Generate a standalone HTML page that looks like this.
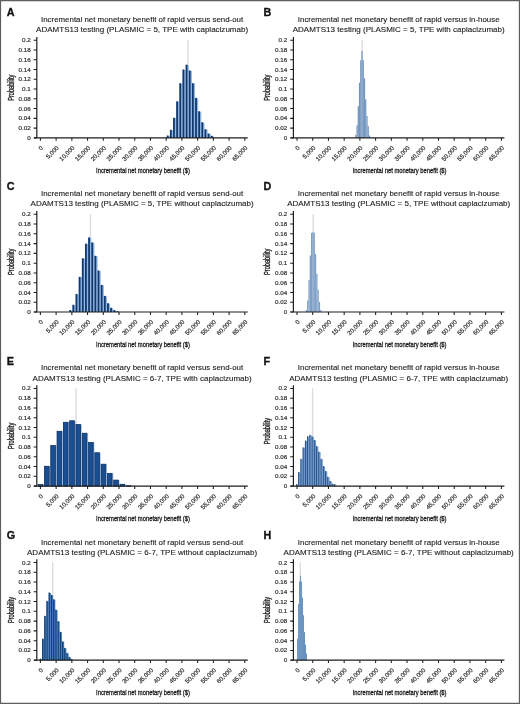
<!DOCTYPE html>
<html><head><meta charset="utf-8"><title>Incremental net monetary benefit histograms</title>
<style>
html,body{margin:0;padding:0;background:#fff;}
body{width:520px;height:704px;overflow:hidden;}
svg{display:block;will-change:transform;}
text{font-family:"Liberation Sans",sans-serif;fill:#1a1a1a;}
.t{font-size:7.9px;fill:#222;stroke:#222;stroke-width:0.12px;}
.lt{font-size:10.8px;font-weight:bold;fill:#111;stroke:#111;stroke-width:0.3px;}
.yl{font-size:5.8px;fill:#333;stroke:#333;stroke-width:0.2px;}
.xl{font-size:6.1px;fill:#333;stroke:#333;stroke-width:0.2px;}
.at{font-size:8.0px;fill:#1a1a1a;stroke:#1a1a1a;stroke-width:0.32px;}
.pr{font-size:8.2px;fill:#222;stroke:#222;stroke-width:0.35px;}
</style></head><body>
<svg width="520" height="704" viewBox="0 0 520 704">
<rect x="0" y="0" width="520" height="704" fill="#fff"/>

<g transform="translate(0.00,0.00)">
<text class="lt" x="6.8" y="16.4">A</text>
<text class="t" x="142.1" y="22.3" text-anchor="middle">Incremental net monetary benefit of rapid versus send-out</text>
<text class="t" x="142.1" y="32.4" text-anchor="middle" textLength="212.0" lengthAdjust="spacingAndGlyphs">ADAMTS13 testing (PLASMIC = 5, TPE with caplacizumab)</text>
<line x1="187.90" y1="40.2" x2="187.90" y2="137.90" stroke="#dcdcdc" stroke-width="1.4"/>
<rect x="166.78" y="135.91" width="3.14" height="1.99" fill="#8fb8e6"/>
<rect x="166.78" y="135.51" width="1.79" height="2.39" fill="#12386c"/>
<rect x="169.93" y="130.19" width="3.14" height="7.71" fill="#8fb8e6"/>
<rect x="169.93" y="129.79" width="1.79" height="8.11" fill="#12386c"/>
<rect x="173.07" y="118.12" width="3.14" height="19.78" fill="#8fb8e6"/>
<rect x="173.07" y="117.72" width="1.79" height="20.18" fill="#12386c"/>
<rect x="176.22" y="101.71" width="3.14" height="36.19" fill="#8fb8e6"/>
<rect x="176.22" y="101.31" width="1.79" height="36.59" fill="#12386c"/>
<rect x="179.36" y="83.59" width="3.14" height="54.31" fill="#8fb8e6"/>
<rect x="179.36" y="83.19" width="1.79" height="54.71" fill="#12386c"/>
<rect x="182.51" y="69.91" width="3.14" height="67.99" fill="#8fb8e6"/>
<rect x="182.51" y="69.51" width="1.79" height="68.39" fill="#12386c"/>
<rect x="185.65" y="65.03" width="3.14" height="72.87" fill="#8fb8e6"/>
<rect x="185.65" y="64.63" width="1.79" height="73.27" fill="#12386c"/>
<rect x="188.80" y="70.89" width="3.14" height="67.01" fill="#8fb8e6"/>
<rect x="188.80" y="70.49" width="1.79" height="67.41" fill="#12386c"/>
<rect x="191.94" y="83.59" width="3.14" height="54.31" fill="#8fb8e6"/>
<rect x="191.94" y="83.19" width="1.79" height="54.71" fill="#12386c"/>
<rect x="195.09" y="98.24" width="3.14" height="39.66" fill="#8fb8e6"/>
<rect x="195.09" y="97.84" width="1.79" height="40.06" fill="#12386c"/>
<rect x="198.23" y="111.68" width="3.14" height="26.22" fill="#8fb8e6"/>
<rect x="198.23" y="111.28" width="1.79" height="26.62" fill="#12386c"/>
<rect x="201.37" y="122.67" width="3.14" height="15.23" fill="#8fb8e6"/>
<rect x="201.37" y="122.27" width="1.79" height="15.63" fill="#12386c"/>
<rect x="204.52" y="129.60" width="3.14" height="8.30" fill="#8fb8e6"/>
<rect x="204.52" y="129.20" width="1.79" height="8.70" fill="#12386c"/>
<rect x="207.66" y="133.90" width="3.14" height="4.00" fill="#8fb8e6"/>
<rect x="207.66" y="133.50" width="1.79" height="4.40" fill="#12386c"/>
<rect x="210.81" y="136.20" width="3.14" height="1.70" fill="#8fb8e6"/>
<rect x="210.81" y="135.80" width="1.79" height="2.10" fill="#12386c"/>
<path d="M36.80 37V137.90M34 137.90H247.8" stroke="#1e1e1e" stroke-width="1.2" fill="none"/>
<path d="M33.6 137.90H36.80M33.6 128.13H36.80M33.6 118.36H36.80M33.6 108.59H36.80M33.6 98.82H36.80M33.6 89.05H36.80M33.6 79.28H36.80M33.6 69.51H36.80M33.6 59.74H36.80M33.6 49.97H36.80M33.6 40.20H36.80M40.40 137.90V140.80M56.12 137.90V140.80M71.85 137.90V140.80M87.57 137.90V140.80M103.29 137.90V140.80M119.01 137.90V140.80M134.74 137.90V140.80M150.46 137.90V140.80M166.18 137.90V140.80M181.91 137.90V140.80M197.63 137.90V140.80M213.35 137.90V140.80M229.08 137.90V140.80M244.80 137.90V140.80" stroke="#1e1e1e" stroke-width="1.05" fill="none"/>
<text class="yl" x="30.7" y="139.95" text-anchor="end" textLength="3.48" lengthAdjust="spacingAndGlyphs">0</text>
<text class="yl" x="30.7" y="130.18" text-anchor="end" textLength="12.19" lengthAdjust="spacingAndGlyphs">0.02</text>
<text class="yl" x="30.7" y="120.41" text-anchor="end" textLength="12.19" lengthAdjust="spacingAndGlyphs">0.04</text>
<text class="yl" x="30.7" y="110.64" text-anchor="end" textLength="12.19" lengthAdjust="spacingAndGlyphs">0.06</text>
<text class="yl" x="30.7" y="100.87" text-anchor="end" textLength="12.19" lengthAdjust="spacingAndGlyphs">0.08</text>
<text class="yl" x="30.7" y="91.10" text-anchor="end" textLength="8.71" lengthAdjust="spacingAndGlyphs">0.1</text>
<text class="yl" x="30.7" y="81.33" text-anchor="end" textLength="12.19" lengthAdjust="spacingAndGlyphs">0.12</text>
<text class="yl" x="30.7" y="71.56" text-anchor="end" textLength="12.19" lengthAdjust="spacingAndGlyphs">0.14</text>
<text class="yl" x="30.7" y="61.79" text-anchor="end" textLength="12.19" lengthAdjust="spacingAndGlyphs">0.16</text>
<text class="yl" x="30.7" y="52.02" text-anchor="end" textLength="12.19" lengthAdjust="spacingAndGlyphs">0.18</text>
<text class="yl" x="30.7" y="42.25" text-anchor="end" textLength="8.71" lengthAdjust="spacingAndGlyphs">0.2</text>
<text class="xl" text-anchor="end" transform="translate(43.50,148.30) rotate(-45)">0</text>
<text class="xl" text-anchor="end" transform="translate(59.22,148.30) rotate(-45)">5,000</text>
<text class="xl" text-anchor="end" transform="translate(74.95,148.30) rotate(-45)">10,000</text>
<text class="xl" text-anchor="end" transform="translate(90.67,148.30) rotate(-45)">15,000</text>
<text class="xl" text-anchor="end" transform="translate(106.39,148.30) rotate(-45)">20,000</text>
<text class="xl" text-anchor="end" transform="translate(122.11,148.30) rotate(-45)">25,000</text>
<text class="xl" text-anchor="end" transform="translate(137.84,148.30) rotate(-45)">30,000</text>
<text class="xl" text-anchor="end" transform="translate(153.56,148.30) rotate(-45)">35,000</text>
<text class="xl" text-anchor="end" transform="translate(169.28,148.30) rotate(-45)">40,000</text>
<text class="xl" text-anchor="end" transform="translate(185.01,148.30) rotate(-45)">45,000</text>
<text class="xl" text-anchor="end" transform="translate(200.73,148.30) rotate(-45)">50,000</text>
<text class="xl" text-anchor="end" transform="translate(216.45,148.30) rotate(-45)">55,000</text>
<text class="xl" text-anchor="end" transform="translate(232.18,148.30) rotate(-45)">60,000</text>
<text class="xl" text-anchor="end" transform="translate(247.90,148.30) rotate(-45)">65,000</text>
<text class="pr" text-anchor="middle" transform="translate(13.8,87.7) rotate(-90)" textLength="26.2" lengthAdjust="spacingAndGlyphs">Probability</text>
<text class="at" x="143" y="173.2" text-anchor="middle" textLength="93.8" lengthAdjust="spacingAndGlyphs">Incremental net monetary benefit ($)</text>
</g>
<g transform="translate(256.60,0.00)">
<text class="lt" x="6.8" y="16.4">B</text>
<text class="t" x="142.1" y="22.3" text-anchor="middle">Incremental net monetary benefit of rapid versus in-house</text>
<text class="t" x="142.1" y="32.4" text-anchor="middle" textLength="212.0" lengthAdjust="spacingAndGlyphs">ADAMTS13 testing (PLASMIC = 5, TPE with caplacizumab)</text>
<line x1="105.60" y1="40.2" x2="105.60" y2="137.90" stroke="#dcdcdc" stroke-width="1.4"/>
<rect x="98.60" y="134.72" width="1.24" height="3.18" fill="#7295bf"/>
<rect x="99.84" y="125.20" width="1.24" height="12.70" fill="#7295bf"/>
<rect x="101.08" y="106.15" width="1.24" height="31.75" fill="#7295bf"/>
<rect x="102.32" y="82.70" width="1.24" height="55.20" fill="#7295bf"/>
<rect x="103.56" y="60.23" width="1.24" height="77.67" fill="#7295bf"/>
<rect x="104.80" y="50.95" width="1.24" height="86.95" fill="#7295bf"/>
<rect x="106.04" y="60.23" width="1.24" height="77.67" fill="#7295bf"/>
<rect x="107.28" y="78.30" width="1.24" height="59.60" fill="#7295bf"/>
<rect x="108.52" y="99.31" width="1.24" height="38.59" fill="#7295bf"/>
<rect x="109.76" y="115.92" width="1.24" height="21.98" fill="#7295bf"/>
<rect x="111.00" y="126.18" width="1.24" height="11.72" fill="#7295bf"/>
<rect x="112.24" y="135.46" width="1.24" height="2.44" fill="#7295bf"/>
<path d="M36.80 37V137.90M34 137.90H247.8" stroke="#1e1e1e" stroke-width="1.2" fill="none"/>
<path d="M33.6 137.90H36.80M33.6 128.13H36.80M33.6 118.36H36.80M33.6 108.59H36.80M33.6 98.82H36.80M33.6 89.05H36.80M33.6 79.28H36.80M33.6 69.51H36.80M33.6 59.74H36.80M33.6 49.97H36.80M33.6 40.20H36.80M40.40 137.90V140.80M56.12 137.90V140.80M71.85 137.90V140.80M87.57 137.90V140.80M103.29 137.90V140.80M119.01 137.90V140.80M134.74 137.90V140.80M150.46 137.90V140.80M166.18 137.90V140.80M181.91 137.90V140.80M197.63 137.90V140.80M213.35 137.90V140.80M229.08 137.90V140.80M244.80 137.90V140.80" stroke="#1e1e1e" stroke-width="1.05" fill="none"/>
<text class="yl" x="30.7" y="139.95" text-anchor="end" textLength="3.48" lengthAdjust="spacingAndGlyphs">0</text>
<text class="yl" x="30.7" y="130.18" text-anchor="end" textLength="12.19" lengthAdjust="spacingAndGlyphs">0.02</text>
<text class="yl" x="30.7" y="120.41" text-anchor="end" textLength="12.19" lengthAdjust="spacingAndGlyphs">0.04</text>
<text class="yl" x="30.7" y="110.64" text-anchor="end" textLength="12.19" lengthAdjust="spacingAndGlyphs">0.06</text>
<text class="yl" x="30.7" y="100.87" text-anchor="end" textLength="12.19" lengthAdjust="spacingAndGlyphs">0.08</text>
<text class="yl" x="30.7" y="91.10" text-anchor="end" textLength="8.71" lengthAdjust="spacingAndGlyphs">0.1</text>
<text class="yl" x="30.7" y="81.33" text-anchor="end" textLength="12.19" lengthAdjust="spacingAndGlyphs">0.12</text>
<text class="yl" x="30.7" y="71.56" text-anchor="end" textLength="12.19" lengthAdjust="spacingAndGlyphs">0.14</text>
<text class="yl" x="30.7" y="61.79" text-anchor="end" textLength="12.19" lengthAdjust="spacingAndGlyphs">0.16</text>
<text class="yl" x="30.7" y="52.02" text-anchor="end" textLength="12.19" lengthAdjust="spacingAndGlyphs">0.18</text>
<text class="yl" x="30.7" y="42.25" text-anchor="end" textLength="8.71" lengthAdjust="spacingAndGlyphs">0.2</text>
<text class="xl" text-anchor="end" transform="translate(43.50,148.30) rotate(-45)">0</text>
<text class="xl" text-anchor="end" transform="translate(59.22,148.30) rotate(-45)">5,000</text>
<text class="xl" text-anchor="end" transform="translate(74.95,148.30) rotate(-45)">10,000</text>
<text class="xl" text-anchor="end" transform="translate(90.67,148.30) rotate(-45)">15,000</text>
<text class="xl" text-anchor="end" transform="translate(106.39,148.30) rotate(-45)">20,000</text>
<text class="xl" text-anchor="end" transform="translate(122.11,148.30) rotate(-45)">25,000</text>
<text class="xl" text-anchor="end" transform="translate(137.84,148.30) rotate(-45)">30,000</text>
<text class="xl" text-anchor="end" transform="translate(153.56,148.30) rotate(-45)">35,000</text>
<text class="xl" text-anchor="end" transform="translate(169.28,148.30) rotate(-45)">40,000</text>
<text class="xl" text-anchor="end" transform="translate(185.01,148.30) rotate(-45)">45,000</text>
<text class="xl" text-anchor="end" transform="translate(200.73,148.30) rotate(-45)">50,000</text>
<text class="xl" text-anchor="end" transform="translate(216.45,148.30) rotate(-45)">55,000</text>
<text class="xl" text-anchor="end" transform="translate(232.18,148.30) rotate(-45)">60,000</text>
<text class="xl" text-anchor="end" transform="translate(247.90,148.30) rotate(-45)">65,000</text>
<text class="pr" text-anchor="middle" transform="translate(13.8,87.7) rotate(-90)" textLength="26.2" lengthAdjust="spacingAndGlyphs">Probability</text>
<text class="at" x="143" y="173.2" text-anchor="middle" textLength="93.8" lengthAdjust="spacingAndGlyphs">Incremental net monetary benefit ($)</text>
</g>
<g transform="translate(0.00,174.10)">
<text class="lt" x="6.8" y="16.4">C</text>
<text class="t" x="142.1" y="22.3" text-anchor="middle">Incremental net monetary benefit of rapid versus send-out</text>
<text class="t" x="142.1" y="32.4" text-anchor="middle" textLength="223.1" lengthAdjust="spacingAndGlyphs">ADAMTS13 testing (PLASMIC = 5, TPE without caplacizumab)</text>
<line x1="90.50" y1="40.2" x2="90.50" y2="137.90" stroke="#dcdcdc" stroke-width="1.4"/>
<rect x="69.30" y="136.39" width="3.14" height="1.51" fill="#8fb8e6"/>
<rect x="69.30" y="135.99" width="1.79" height="1.91" fill="#12386c"/>
<rect x="72.45" y="131.02" width="3.14" height="6.88" fill="#8fb8e6"/>
<rect x="72.45" y="130.62" width="1.79" height="7.28" fill="#12386c"/>
<rect x="75.59" y="120.23" width="3.14" height="17.67" fill="#8fb8e6"/>
<rect x="75.59" y="119.83" width="1.79" height="18.07" fill="#12386c"/>
<rect x="78.74" y="103.13" width="3.14" height="34.77" fill="#8fb8e6"/>
<rect x="78.74" y="102.73" width="1.79" height="35.17" fill="#12386c"/>
<rect x="81.88" y="84.57" width="3.14" height="53.33" fill="#8fb8e6"/>
<rect x="81.88" y="84.17" width="1.79" height="53.73" fill="#12386c"/>
<rect x="85.02" y="69.91" width="3.14" height="67.99" fill="#8fb8e6"/>
<rect x="85.02" y="69.51" width="1.79" height="68.39" fill="#12386c"/>
<rect x="88.17" y="63.71" width="3.14" height="74.19" fill="#8fb8e6"/>
<rect x="88.17" y="63.31" width="1.79" height="74.59" fill="#12386c"/>
<rect x="91.31" y="68.69" width="3.14" height="69.21" fill="#8fb8e6"/>
<rect x="91.31" y="68.29" width="1.79" height="69.61" fill="#12386c"/>
<rect x="94.46" y="82.12" width="3.14" height="55.78" fill="#8fb8e6"/>
<rect x="94.46" y="81.72" width="1.79" height="56.18" fill="#12386c"/>
<rect x="97.60" y="96.78" width="3.14" height="41.12" fill="#8fb8e6"/>
<rect x="97.60" y="96.38" width="1.79" height="41.52" fill="#12386c"/>
<rect x="100.75" y="111.19" width="3.14" height="26.71" fill="#8fb8e6"/>
<rect x="100.75" y="110.79" width="1.79" height="27.11" fill="#12386c"/>
<rect x="103.89" y="122.18" width="3.14" height="15.72" fill="#8fb8e6"/>
<rect x="103.89" y="121.78" width="1.79" height="16.12" fill="#12386c"/>
<rect x="107.04" y="129.51" width="3.14" height="8.39" fill="#8fb8e6"/>
<rect x="107.04" y="129.11" width="1.79" height="8.79" fill="#12386c"/>
<rect x="110.18" y="134.10" width="3.14" height="3.80" fill="#8fb8e6"/>
<rect x="110.18" y="133.70" width="1.79" height="4.20" fill="#12386c"/>
<rect x="113.33" y="136.39" width="3.14" height="1.51" fill="#8fb8e6"/>
<rect x="113.33" y="135.99" width="1.79" height="1.91" fill="#12386c"/>
<rect x="116.47" y="137.52" width="3.14" height="0.38" fill="#8fb8e6"/>
<rect x="116.47" y="137.12" width="1.79" height="0.78" fill="#12386c"/>
<path d="M36.80 37V137.90M34 137.90H247.8" stroke="#1e1e1e" stroke-width="1.2" fill="none"/>
<path d="M33.6 137.90H36.80M33.6 128.13H36.80M33.6 118.36H36.80M33.6 108.59H36.80M33.6 98.82H36.80M33.6 89.05H36.80M33.6 79.28H36.80M33.6 69.51H36.80M33.6 59.74H36.80M33.6 49.97H36.80M33.6 40.20H36.80M40.40 137.90V140.80M56.12 137.90V140.80M71.85 137.90V140.80M87.57 137.90V140.80M103.29 137.90V140.80M119.01 137.90V140.80M134.74 137.90V140.80M150.46 137.90V140.80M166.18 137.90V140.80M181.91 137.90V140.80M197.63 137.90V140.80M213.35 137.90V140.80M229.08 137.90V140.80M244.80 137.90V140.80" stroke="#1e1e1e" stroke-width="1.05" fill="none"/>
<text class="yl" x="30.7" y="139.95" text-anchor="end" textLength="3.48" lengthAdjust="spacingAndGlyphs">0</text>
<text class="yl" x="30.7" y="130.18" text-anchor="end" textLength="12.19" lengthAdjust="spacingAndGlyphs">0.02</text>
<text class="yl" x="30.7" y="120.41" text-anchor="end" textLength="12.19" lengthAdjust="spacingAndGlyphs">0.04</text>
<text class="yl" x="30.7" y="110.64" text-anchor="end" textLength="12.19" lengthAdjust="spacingAndGlyphs">0.06</text>
<text class="yl" x="30.7" y="100.87" text-anchor="end" textLength="12.19" lengthAdjust="spacingAndGlyphs">0.08</text>
<text class="yl" x="30.7" y="91.10" text-anchor="end" textLength="8.71" lengthAdjust="spacingAndGlyphs">0.1</text>
<text class="yl" x="30.7" y="81.33" text-anchor="end" textLength="12.19" lengthAdjust="spacingAndGlyphs">0.12</text>
<text class="yl" x="30.7" y="71.56" text-anchor="end" textLength="12.19" lengthAdjust="spacingAndGlyphs">0.14</text>
<text class="yl" x="30.7" y="61.79" text-anchor="end" textLength="12.19" lengthAdjust="spacingAndGlyphs">0.16</text>
<text class="yl" x="30.7" y="52.02" text-anchor="end" textLength="12.19" lengthAdjust="spacingAndGlyphs">0.18</text>
<text class="yl" x="30.7" y="42.25" text-anchor="end" textLength="8.71" lengthAdjust="spacingAndGlyphs">0.2</text>
<text class="xl" text-anchor="end" transform="translate(43.50,148.30) rotate(-45)">0</text>
<text class="xl" text-anchor="end" transform="translate(59.22,148.30) rotate(-45)">5,000</text>
<text class="xl" text-anchor="end" transform="translate(74.95,148.30) rotate(-45)">10,000</text>
<text class="xl" text-anchor="end" transform="translate(90.67,148.30) rotate(-45)">15,000</text>
<text class="xl" text-anchor="end" transform="translate(106.39,148.30) rotate(-45)">20,000</text>
<text class="xl" text-anchor="end" transform="translate(122.11,148.30) rotate(-45)">25,000</text>
<text class="xl" text-anchor="end" transform="translate(137.84,148.30) rotate(-45)">30,000</text>
<text class="xl" text-anchor="end" transform="translate(153.56,148.30) rotate(-45)">35,000</text>
<text class="xl" text-anchor="end" transform="translate(169.28,148.30) rotate(-45)">40,000</text>
<text class="xl" text-anchor="end" transform="translate(185.01,148.30) rotate(-45)">45,000</text>
<text class="xl" text-anchor="end" transform="translate(200.73,148.30) rotate(-45)">50,000</text>
<text class="xl" text-anchor="end" transform="translate(216.45,148.30) rotate(-45)">55,000</text>
<text class="xl" text-anchor="end" transform="translate(232.18,148.30) rotate(-45)">60,000</text>
<text class="xl" text-anchor="end" transform="translate(247.90,148.30) rotate(-45)">65,000</text>
<text class="pr" text-anchor="middle" transform="translate(13.8,87.7) rotate(-90)" textLength="26.2" lengthAdjust="spacingAndGlyphs">Probability</text>
<text class="at" x="143" y="173.2" text-anchor="middle" textLength="93.8" lengthAdjust="spacingAndGlyphs">Incremental net monetary benefit ($)</text>
</g>
<g transform="translate(256.60,174.10)">
<text class="lt" x="6.8" y="16.4">D</text>
<text class="t" x="142.1" y="22.3" text-anchor="middle">Incremental net monetary benefit of rapid versus in-house</text>
<text class="t" x="142.1" y="32.4" text-anchor="middle" textLength="223.1" lengthAdjust="spacingAndGlyphs">ADAMTS13 testing (PLASMIC = 5, TPE without caplacizumab)</text>
<line x1="56.60" y1="40.2" x2="56.60" y2="137.90" stroke="#dcdcdc" stroke-width="1.4"/>
<rect x="49.20" y="135.95" width="1.30" height="1.95" fill="#7fa1c9"/>
<rect x="50.50" y="126.42" width="1.30" height="11.48" fill="#7fa1c9"/>
<rect x="51.80" y="105.90" width="1.30" height="32.00" fill="#7fa1c9"/>
<rect x="53.10" y="81.38" width="1.30" height="56.52" fill="#7fa1c9"/>
<rect x="54.40" y="58.76" width="1.30" height="79.14" fill="#7fa1c9"/>
<rect x="55.70" y="57.98" width="1.30" height="79.92" fill="#7fa1c9"/>
<rect x="57.00" y="58.76" width="1.30" height="79.14" fill="#7fa1c9"/>
<rect x="58.30" y="80.01" width="1.30" height="57.89" fill="#7fa1c9"/>
<rect x="59.60" y="99.80" width="1.30" height="38.10" fill="#7fa1c9"/>
<rect x="60.90" y="115.43" width="1.30" height="22.47" fill="#7fa1c9"/>
<rect x="62.20" y="127.79" width="1.30" height="10.11" fill="#7fa1c9"/>
<rect x="63.50" y="135.95" width="1.30" height="1.95" fill="#7fa1c9"/>
<path d="M36.80 37V137.90M34 137.90H247.8" stroke="#1e1e1e" stroke-width="1.2" fill="none"/>
<path d="M33.6 137.90H36.80M33.6 128.13H36.80M33.6 118.36H36.80M33.6 108.59H36.80M33.6 98.82H36.80M33.6 89.05H36.80M33.6 79.28H36.80M33.6 69.51H36.80M33.6 59.74H36.80M33.6 49.97H36.80M33.6 40.20H36.80M40.40 137.90V140.80M56.12 137.90V140.80M71.85 137.90V140.80M87.57 137.90V140.80M103.29 137.90V140.80M119.01 137.90V140.80M134.74 137.90V140.80M150.46 137.90V140.80M166.18 137.90V140.80M181.91 137.90V140.80M197.63 137.90V140.80M213.35 137.90V140.80M229.08 137.90V140.80M244.80 137.90V140.80" stroke="#1e1e1e" stroke-width="1.05" fill="none"/>
<text class="yl" x="30.7" y="139.95" text-anchor="end" textLength="3.48" lengthAdjust="spacingAndGlyphs">0</text>
<text class="yl" x="30.7" y="130.18" text-anchor="end" textLength="12.19" lengthAdjust="spacingAndGlyphs">0.02</text>
<text class="yl" x="30.7" y="120.41" text-anchor="end" textLength="12.19" lengthAdjust="spacingAndGlyphs">0.04</text>
<text class="yl" x="30.7" y="110.64" text-anchor="end" textLength="12.19" lengthAdjust="spacingAndGlyphs">0.06</text>
<text class="yl" x="30.7" y="100.87" text-anchor="end" textLength="12.19" lengthAdjust="spacingAndGlyphs">0.08</text>
<text class="yl" x="30.7" y="91.10" text-anchor="end" textLength="8.71" lengthAdjust="spacingAndGlyphs">0.1</text>
<text class="yl" x="30.7" y="81.33" text-anchor="end" textLength="12.19" lengthAdjust="spacingAndGlyphs">0.12</text>
<text class="yl" x="30.7" y="71.56" text-anchor="end" textLength="12.19" lengthAdjust="spacingAndGlyphs">0.14</text>
<text class="yl" x="30.7" y="61.79" text-anchor="end" textLength="12.19" lengthAdjust="spacingAndGlyphs">0.16</text>
<text class="yl" x="30.7" y="52.02" text-anchor="end" textLength="12.19" lengthAdjust="spacingAndGlyphs">0.18</text>
<text class="yl" x="30.7" y="42.25" text-anchor="end" textLength="8.71" lengthAdjust="spacingAndGlyphs">0.2</text>
<text class="xl" text-anchor="end" transform="translate(43.50,148.30) rotate(-45)">0</text>
<text class="xl" text-anchor="end" transform="translate(59.22,148.30) rotate(-45)">5,000</text>
<text class="xl" text-anchor="end" transform="translate(74.95,148.30) rotate(-45)">10,000</text>
<text class="xl" text-anchor="end" transform="translate(90.67,148.30) rotate(-45)">15,000</text>
<text class="xl" text-anchor="end" transform="translate(106.39,148.30) rotate(-45)">20,000</text>
<text class="xl" text-anchor="end" transform="translate(122.11,148.30) rotate(-45)">25,000</text>
<text class="xl" text-anchor="end" transform="translate(137.84,148.30) rotate(-45)">30,000</text>
<text class="xl" text-anchor="end" transform="translate(153.56,148.30) rotate(-45)">35,000</text>
<text class="xl" text-anchor="end" transform="translate(169.28,148.30) rotate(-45)">40,000</text>
<text class="xl" text-anchor="end" transform="translate(185.01,148.30) rotate(-45)">45,000</text>
<text class="xl" text-anchor="end" transform="translate(200.73,148.30) rotate(-45)">50,000</text>
<text class="xl" text-anchor="end" transform="translate(216.45,148.30) rotate(-45)">55,000</text>
<text class="xl" text-anchor="end" transform="translate(232.18,148.30) rotate(-45)">60,000</text>
<text class="xl" text-anchor="end" transform="translate(247.90,148.30) rotate(-45)">65,000</text>
<text class="pr" text-anchor="middle" transform="translate(13.8,87.7) rotate(-90)" textLength="26.2" lengthAdjust="spacingAndGlyphs">Probability</text>
<text class="at" x="143" y="173.2" text-anchor="middle" textLength="93.8" lengthAdjust="spacingAndGlyphs">Incremental net monetary benefit ($)</text>
</g>
<g transform="translate(0.00,348.20)">
<text class="lt" x="6.8" y="16.4">E</text>
<text class="t" x="142.1" y="22.3" text-anchor="middle">Incremental net monetary benefit of rapid versus send-out</text>
<text class="t" x="142.1" y="32.4" text-anchor="middle" textLength="219.1" lengthAdjust="spacingAndGlyphs">ADAMTS13 testing (PLASMIC = 6-7, TPE with caplacizumab)</text>
<line x1="76.10" y1="40.2" x2="76.10" y2="137.90" stroke="#dcdcdc" stroke-width="1.4"/>
<rect x="37.86" y="136.49" width="6.29" height="1.41" fill="#a9c9ec"/>
<rect x="38.21" y="136.44" width="4.69" height="1.46" fill="#1a4e92" stroke="#0c2c5a" stroke-width="0.7"/>
<rect x="44.14" y="118.08" width="6.29" height="19.82" fill="#a9c9ec"/>
<rect x="44.49" y="118.03" width="4.69" height="19.87" fill="#1a4e92" stroke="#0c2c5a" stroke-width="0.7"/>
<rect x="50.43" y="97.41" width="6.29" height="40.49" fill="#a9c9ec"/>
<rect x="50.78" y="97.36" width="4.69" height="40.54" fill="#1a4e92" stroke="#0c2c5a" stroke-width="0.7"/>
<rect x="56.72" y="83.10" width="6.29" height="54.80" fill="#a9c9ec"/>
<rect x="57.07" y="83.05" width="4.69" height="54.85" fill="#1a4e92" stroke="#0c2c5a" stroke-width="0.7"/>
<rect x="63.01" y="74.11" width="6.29" height="63.79" fill="#a9c9ec"/>
<rect x="63.36" y="74.06" width="4.69" height="63.84" fill="#1a4e92" stroke="#0c2c5a" stroke-width="0.7"/>
<rect x="69.30" y="72.60" width="6.29" height="65.30" fill="#a9c9ec"/>
<rect x="69.65" y="72.55" width="4.69" height="65.35" fill="#1a4e92" stroke="#0c2c5a" stroke-width="0.7"/>
<rect x="75.59" y="76.26" width="6.29" height="61.64" fill="#a9c9ec"/>
<rect x="75.94" y="76.21" width="4.69" height="61.69" fill="#1a4e92" stroke="#0c2c5a" stroke-width="0.7"/>
<rect x="81.88" y="85.05" width="6.29" height="52.85" fill="#a9c9ec"/>
<rect x="82.23" y="85.00" width="4.69" height="52.90" fill="#1a4e92" stroke="#0c2c5a" stroke-width="0.7"/>
<rect x="88.17" y="94.34" width="6.29" height="43.56" fill="#a9c9ec"/>
<rect x="88.52" y="94.28" width="4.69" height="43.61" fill="#1a4e92" stroke="#0c2c5a" stroke-width="0.7"/>
<rect x="94.46" y="104.59" width="6.29" height="33.31" fill="#a9c9ec"/>
<rect x="94.81" y="104.54" width="4.69" height="33.36" fill="#1a4e92" stroke="#0c2c5a" stroke-width="0.7"/>
<rect x="100.75" y="116.02" width="6.29" height="21.88" fill="#a9c9ec"/>
<rect x="101.10" y="115.97" width="4.69" height="21.93" fill="#1a4e92" stroke="#0c2c5a" stroke-width="0.7"/>
<rect x="107.04" y="125.31" width="6.29" height="12.59" fill="#a9c9ec"/>
<rect x="107.39" y="125.26" width="4.69" height="12.64" fill="#1a4e92" stroke="#0c2c5a" stroke-width="0.7"/>
<rect x="113.33" y="131.90" width="6.29" height="6.00" fill="#a9c9ec"/>
<rect x="113.68" y="131.85" width="4.69" height="6.05" fill="#1a4e92" stroke="#0c2c5a" stroke-width="0.7"/>
<rect x="119.62" y="136.10" width="6.29" height="1.80" fill="#a9c9ec"/>
<rect x="119.97" y="136.05" width="4.69" height="1.85" fill="#1a4e92" stroke="#0c2c5a" stroke-width="0.7"/>
<rect x="125.90" y="137.62" width="6.29" height="0.28" fill="#a9c9ec"/>
<rect x="126.25" y="137.57" width="4.69" height="0.33" fill="#1a4e92" stroke="#0c2c5a" stroke-width="0.7"/>
<path d="M36.80 37V137.90M34 137.90H247.8" stroke="#1e1e1e" stroke-width="1.2" fill="none"/>
<path d="M33.6 137.90H36.80M33.6 128.13H36.80M33.6 118.36H36.80M33.6 108.59H36.80M33.6 98.82H36.80M33.6 89.05H36.80M33.6 79.28H36.80M33.6 69.51H36.80M33.6 59.74H36.80M33.6 49.97H36.80M33.6 40.20H36.80M40.40 137.90V140.80M56.12 137.90V140.80M71.85 137.90V140.80M87.57 137.90V140.80M103.29 137.90V140.80M119.01 137.90V140.80M134.74 137.90V140.80M150.46 137.90V140.80M166.18 137.90V140.80M181.91 137.90V140.80M197.63 137.90V140.80M213.35 137.90V140.80M229.08 137.90V140.80M244.80 137.90V140.80" stroke="#1e1e1e" stroke-width="1.05" fill="none"/>
<text class="yl" x="30.7" y="139.95" text-anchor="end" textLength="3.48" lengthAdjust="spacingAndGlyphs">0</text>
<text class="yl" x="30.7" y="130.18" text-anchor="end" textLength="12.19" lengthAdjust="spacingAndGlyphs">0.02</text>
<text class="yl" x="30.7" y="120.41" text-anchor="end" textLength="12.19" lengthAdjust="spacingAndGlyphs">0.04</text>
<text class="yl" x="30.7" y="110.64" text-anchor="end" textLength="12.19" lengthAdjust="spacingAndGlyphs">0.06</text>
<text class="yl" x="30.7" y="100.87" text-anchor="end" textLength="12.19" lengthAdjust="spacingAndGlyphs">0.08</text>
<text class="yl" x="30.7" y="91.10" text-anchor="end" textLength="8.71" lengthAdjust="spacingAndGlyphs">0.1</text>
<text class="yl" x="30.7" y="81.33" text-anchor="end" textLength="12.19" lengthAdjust="spacingAndGlyphs">0.12</text>
<text class="yl" x="30.7" y="71.56" text-anchor="end" textLength="12.19" lengthAdjust="spacingAndGlyphs">0.14</text>
<text class="yl" x="30.7" y="61.79" text-anchor="end" textLength="12.19" lengthAdjust="spacingAndGlyphs">0.16</text>
<text class="yl" x="30.7" y="52.02" text-anchor="end" textLength="12.19" lengthAdjust="spacingAndGlyphs">0.18</text>
<text class="yl" x="30.7" y="42.25" text-anchor="end" textLength="8.71" lengthAdjust="spacingAndGlyphs">0.2</text>
<text class="xl" text-anchor="end" transform="translate(43.50,148.30) rotate(-45)">0</text>
<text class="xl" text-anchor="end" transform="translate(59.22,148.30) rotate(-45)">5,000</text>
<text class="xl" text-anchor="end" transform="translate(74.95,148.30) rotate(-45)">10,000</text>
<text class="xl" text-anchor="end" transform="translate(90.67,148.30) rotate(-45)">15,000</text>
<text class="xl" text-anchor="end" transform="translate(106.39,148.30) rotate(-45)">20,000</text>
<text class="xl" text-anchor="end" transform="translate(122.11,148.30) rotate(-45)">25,000</text>
<text class="xl" text-anchor="end" transform="translate(137.84,148.30) rotate(-45)">30,000</text>
<text class="xl" text-anchor="end" transform="translate(153.56,148.30) rotate(-45)">35,000</text>
<text class="xl" text-anchor="end" transform="translate(169.28,148.30) rotate(-45)">40,000</text>
<text class="xl" text-anchor="end" transform="translate(185.01,148.30) rotate(-45)">45,000</text>
<text class="xl" text-anchor="end" transform="translate(200.73,148.30) rotate(-45)">50,000</text>
<text class="xl" text-anchor="end" transform="translate(216.45,148.30) rotate(-45)">55,000</text>
<text class="xl" text-anchor="end" transform="translate(232.18,148.30) rotate(-45)">60,000</text>
<text class="xl" text-anchor="end" transform="translate(247.90,148.30) rotate(-45)">65,000</text>
<text class="pr" text-anchor="middle" transform="translate(13.8,87.7) rotate(-90)" textLength="26.2" lengthAdjust="spacingAndGlyphs">Probability</text>
<text class="at" x="143" y="173.2" text-anchor="middle" textLength="93.8" lengthAdjust="spacingAndGlyphs">Incremental net monetary benefit ($)</text>
</g>
<g transform="translate(256.60,348.20)">
<text class="lt" x="6.8" y="16.4">F</text>
<text class="t" x="142.1" y="22.3" text-anchor="middle">Incremental net monetary benefit of rapid versus in-house</text>
<text class="t" x="142.1" y="32.4" text-anchor="middle" textLength="219.1" lengthAdjust="spacingAndGlyphs">ADAMTS13 testing (PLASMIC = 6-7, TPE with caplacizumab)</text>
<line x1="56.00" y1="40.2" x2="56.00" y2="137.90" stroke="#dcdcdc" stroke-width="1.4"/>
<rect x="39.40" y="136.30" width="2.23" height="1.60" fill="#6c9ad0"/>
<rect x="39.40" y="135.90" width="0.83" height="2.00" fill="#1f4477"/>
<rect x="41.63" y="124.13" width="2.23" height="13.77" fill="#6c9ad0"/>
<rect x="41.63" y="123.73" width="0.83" height="14.17" fill="#1f4477"/>
<rect x="43.87" y="110.94" width="2.23" height="26.96" fill="#6c9ad0"/>
<rect x="43.87" y="110.54" width="0.83" height="27.36" fill="#1f4477"/>
<rect x="46.10" y="99.51" width="2.23" height="38.39" fill="#6c9ad0"/>
<rect x="46.10" y="99.11" width="0.83" height="38.79" fill="#1f4477"/>
<rect x="48.34" y="92.63" width="2.23" height="45.27" fill="#6c9ad0"/>
<rect x="48.34" y="92.23" width="0.83" height="45.67" fill="#1f4477"/>
<rect x="50.57" y="88.33" width="2.23" height="49.57" fill="#6c9ad0"/>
<rect x="50.57" y="87.93" width="0.83" height="49.97" fill="#1f4477"/>
<rect x="52.81" y="87.01" width="2.23" height="50.89" fill="#6c9ad0"/>
<rect x="52.81" y="86.61" width="0.83" height="51.29" fill="#1f4477"/>
<rect x="55.05" y="88.62" width="2.23" height="49.28" fill="#6c9ad0"/>
<rect x="55.05" y="88.22" width="0.83" height="49.68" fill="#1f4477"/>
<rect x="57.28" y="92.09" width="2.23" height="45.81" fill="#6c9ad0"/>
<rect x="57.28" y="91.69" width="0.83" height="46.21" fill="#1f4477"/>
<rect x="59.52" y="98.24" width="2.23" height="39.66" fill="#6c9ad0"/>
<rect x="59.52" y="97.84" width="0.83" height="40.06" fill="#1f4477"/>
<rect x="61.75" y="103.81" width="2.23" height="34.09" fill="#6c9ad0"/>
<rect x="61.75" y="103.41" width="0.83" height="34.49" fill="#1f4477"/>
<rect x="63.98" y="110.99" width="2.23" height="26.91" fill="#6c9ad0"/>
<rect x="63.98" y="110.59" width="0.83" height="27.31" fill="#1f4477"/>
<rect x="66.22" y="118.12" width="2.23" height="19.78" fill="#6c9ad0"/>
<rect x="66.22" y="117.72" width="0.83" height="20.18" fill="#1f4477"/>
<rect x="68.45" y="123.11" width="2.23" height="14.79" fill="#6c9ad0"/>
<rect x="68.45" y="122.71" width="0.83" height="15.19" fill="#1f4477"/>
<rect x="70.69" y="128.92" width="2.23" height="8.98" fill="#6c9ad0"/>
<rect x="70.69" y="128.52" width="0.83" height="9.38" fill="#1f4477"/>
<rect x="72.92" y="133.02" width="2.23" height="4.88" fill="#6c9ad0"/>
<rect x="72.92" y="132.62" width="0.83" height="5.28" fill="#1f4477"/>
<rect x="75.16" y="135.81" width="2.23" height="2.09" fill="#6c9ad0"/>
<rect x="75.16" y="135.41" width="0.83" height="2.49" fill="#1f4477"/>
<rect x="77.39" y="136.30" width="2.23" height="1.60" fill="#6c9ad0"/>
<rect x="77.39" y="135.90" width="0.83" height="2.00" fill="#1f4477"/>
<path d="M36.80 37V137.90M34 137.90H247.8" stroke="#1e1e1e" stroke-width="1.2" fill="none"/>
<path d="M33.6 137.90H36.80M33.6 128.13H36.80M33.6 118.36H36.80M33.6 108.59H36.80M33.6 98.82H36.80M33.6 89.05H36.80M33.6 79.28H36.80M33.6 69.51H36.80M33.6 59.74H36.80M33.6 49.97H36.80M33.6 40.20H36.80M40.40 137.90V140.80M56.12 137.90V140.80M71.85 137.90V140.80M87.57 137.90V140.80M103.29 137.90V140.80M119.01 137.90V140.80M134.74 137.90V140.80M150.46 137.90V140.80M166.18 137.90V140.80M181.91 137.90V140.80M197.63 137.90V140.80M213.35 137.90V140.80M229.08 137.90V140.80M244.80 137.90V140.80" stroke="#1e1e1e" stroke-width="1.05" fill="none"/>
<text class="yl" x="30.7" y="139.95" text-anchor="end" textLength="3.48" lengthAdjust="spacingAndGlyphs">0</text>
<text class="yl" x="30.7" y="130.18" text-anchor="end" textLength="12.19" lengthAdjust="spacingAndGlyphs">0.02</text>
<text class="yl" x="30.7" y="120.41" text-anchor="end" textLength="12.19" lengthAdjust="spacingAndGlyphs">0.04</text>
<text class="yl" x="30.7" y="110.64" text-anchor="end" textLength="12.19" lengthAdjust="spacingAndGlyphs">0.06</text>
<text class="yl" x="30.7" y="100.87" text-anchor="end" textLength="12.19" lengthAdjust="spacingAndGlyphs">0.08</text>
<text class="yl" x="30.7" y="91.10" text-anchor="end" textLength="8.71" lengthAdjust="spacingAndGlyphs">0.1</text>
<text class="yl" x="30.7" y="81.33" text-anchor="end" textLength="12.19" lengthAdjust="spacingAndGlyphs">0.12</text>
<text class="yl" x="30.7" y="71.56" text-anchor="end" textLength="12.19" lengthAdjust="spacingAndGlyphs">0.14</text>
<text class="yl" x="30.7" y="61.79" text-anchor="end" textLength="12.19" lengthAdjust="spacingAndGlyphs">0.16</text>
<text class="yl" x="30.7" y="52.02" text-anchor="end" textLength="12.19" lengthAdjust="spacingAndGlyphs">0.18</text>
<text class="yl" x="30.7" y="42.25" text-anchor="end" textLength="8.71" lengthAdjust="spacingAndGlyphs">0.2</text>
<text class="xl" text-anchor="end" transform="translate(43.50,148.30) rotate(-45)">0</text>
<text class="xl" text-anchor="end" transform="translate(59.22,148.30) rotate(-45)">5,000</text>
<text class="xl" text-anchor="end" transform="translate(74.95,148.30) rotate(-45)">10,000</text>
<text class="xl" text-anchor="end" transform="translate(90.67,148.30) rotate(-45)">15,000</text>
<text class="xl" text-anchor="end" transform="translate(106.39,148.30) rotate(-45)">20,000</text>
<text class="xl" text-anchor="end" transform="translate(122.11,148.30) rotate(-45)">25,000</text>
<text class="xl" text-anchor="end" transform="translate(137.84,148.30) rotate(-45)">30,000</text>
<text class="xl" text-anchor="end" transform="translate(153.56,148.30) rotate(-45)">35,000</text>
<text class="xl" text-anchor="end" transform="translate(169.28,148.30) rotate(-45)">40,000</text>
<text class="xl" text-anchor="end" transform="translate(185.01,148.30) rotate(-45)">45,000</text>
<text class="xl" text-anchor="end" transform="translate(200.73,148.30) rotate(-45)">50,000</text>
<text class="xl" text-anchor="end" transform="translate(216.45,148.30) rotate(-45)">55,000</text>
<text class="xl" text-anchor="end" transform="translate(232.18,148.30) rotate(-45)">60,000</text>
<text class="xl" text-anchor="end" transform="translate(247.90,148.30) rotate(-45)">65,000</text>
<text class="pr" text-anchor="middle" transform="translate(13.8,82.9) rotate(-90)" textLength="26.2" lengthAdjust="spacingAndGlyphs">Probability</text>
<text class="at" x="143" y="173.2" text-anchor="middle" textLength="93.8" lengthAdjust="spacingAndGlyphs">Incremental net monetary benefit ($)</text>
</g>
<g transform="translate(0.00,522.30)">
<text class="lt" x="6.8" y="16.4">G</text>
<text class="t" x="142.1" y="22.3" text-anchor="middle">Incremental net monetary benefit of rapid versus send-out</text>
<text class="t" x="142.1" y="32.4" text-anchor="middle" textLength="230.2" lengthAdjust="spacingAndGlyphs">ADAMTS13 testing (PLASMIC = 6-7, TPE without caplacizumab)</text>
<line x1="52.70" y1="40.2" x2="52.70" y2="137.90" stroke="#dcdcdc" stroke-width="1.4"/>
<rect x="39.80" y="136.83" width="2.21" height="1.07" fill="#3f7cc2"/>
<rect x="39.80" y="136.43" width="1.21" height="1.47" fill="#16416f"/>
<rect x="42.02" y="116.71" width="2.21" height="21.19" fill="#3f7cc2"/>
<rect x="42.02" y="116.31" width="1.21" height="21.59" fill="#16416f"/>
<rect x="44.23" y="93.90" width="2.21" height="44.00" fill="#3f7cc2"/>
<rect x="44.23" y="93.50" width="1.21" height="44.40" fill="#16416f"/>
<rect x="46.44" y="79.00" width="2.21" height="58.90" fill="#3f7cc2"/>
<rect x="46.44" y="78.60" width="1.21" height="59.30" fill="#16416f"/>
<rect x="48.66" y="70.59" width="2.21" height="67.31" fill="#3f7cc2"/>
<rect x="48.66" y="70.19" width="1.21" height="67.71" fill="#16416f"/>
<rect x="50.88" y="72.99" width="2.21" height="64.91" fill="#3f7cc2"/>
<rect x="50.88" y="72.59" width="1.21" height="65.31" fill="#16416f"/>
<rect x="53.09" y="77.38" width="2.21" height="60.52" fill="#3f7cc2"/>
<rect x="53.09" y="76.98" width="1.21" height="60.92" fill="#16416f"/>
<rect x="55.30" y="87.69" width="2.21" height="50.21" fill="#3f7cc2"/>
<rect x="55.30" y="87.29" width="1.21" height="50.61" fill="#16416f"/>
<rect x="57.52" y="99.22" width="2.21" height="38.68" fill="#3f7cc2"/>
<rect x="57.52" y="98.82" width="1.21" height="39.08" fill="#16416f"/>
<rect x="59.73" y="109.92" width="2.21" height="27.98" fill="#3f7cc2"/>
<rect x="59.73" y="109.52" width="1.21" height="28.38" fill="#16416f"/>
<rect x="61.95" y="119.49" width="2.21" height="18.41" fill="#3f7cc2"/>
<rect x="61.95" y="119.09" width="1.21" height="18.81" fill="#16416f"/>
<rect x="64.16" y="125.99" width="2.21" height="11.91" fill="#3f7cc2"/>
<rect x="64.16" y="125.59" width="1.21" height="12.31" fill="#16416f"/>
<rect x="66.38" y="131.02" width="2.21" height="6.88" fill="#3f7cc2"/>
<rect x="66.38" y="130.62" width="1.21" height="7.28" fill="#16416f"/>
<rect x="68.59" y="134.98" width="2.21" height="2.92" fill="#3f7cc2"/>
<rect x="68.59" y="134.58" width="1.21" height="3.32" fill="#16416f"/>
<rect x="70.81" y="136.98" width="2.21" height="0.92" fill="#3f7cc2"/>
<rect x="70.81" y="136.58" width="1.21" height="1.32" fill="#16416f"/>
<path d="M36.80 37V137.90M34 137.90H247.8" stroke="#1e1e1e" stroke-width="1.2" fill="none"/>
<path d="M33.6 137.90H36.80M33.6 128.13H36.80M33.6 118.36H36.80M33.6 108.59H36.80M33.6 98.82H36.80M33.6 89.05H36.80M33.6 79.28H36.80M33.6 69.51H36.80M33.6 59.74H36.80M33.6 49.97H36.80M33.6 40.20H36.80M40.40 137.90V140.80M56.12 137.90V140.80M71.85 137.90V140.80M87.57 137.90V140.80M103.29 137.90V140.80M119.01 137.90V140.80M134.74 137.90V140.80M150.46 137.90V140.80M166.18 137.90V140.80M181.91 137.90V140.80M197.63 137.90V140.80M213.35 137.90V140.80M229.08 137.90V140.80M244.80 137.90V140.80" stroke="#1e1e1e" stroke-width="1.05" fill="none"/>
<text class="yl" x="30.7" y="139.95" text-anchor="end" textLength="3.48" lengthAdjust="spacingAndGlyphs">0</text>
<text class="yl" x="30.7" y="130.18" text-anchor="end" textLength="12.19" lengthAdjust="spacingAndGlyphs">0.02</text>
<text class="yl" x="30.7" y="120.41" text-anchor="end" textLength="12.19" lengthAdjust="spacingAndGlyphs">0.04</text>
<text class="yl" x="30.7" y="110.64" text-anchor="end" textLength="12.19" lengthAdjust="spacingAndGlyphs">0.06</text>
<text class="yl" x="30.7" y="100.87" text-anchor="end" textLength="12.19" lengthAdjust="spacingAndGlyphs">0.08</text>
<text class="yl" x="30.7" y="91.10" text-anchor="end" textLength="8.71" lengthAdjust="spacingAndGlyphs">0.1</text>
<text class="yl" x="30.7" y="81.33" text-anchor="end" textLength="12.19" lengthAdjust="spacingAndGlyphs">0.12</text>
<text class="yl" x="30.7" y="71.56" text-anchor="end" textLength="12.19" lengthAdjust="spacingAndGlyphs">0.14</text>
<text class="yl" x="30.7" y="61.79" text-anchor="end" textLength="12.19" lengthAdjust="spacingAndGlyphs">0.16</text>
<text class="yl" x="30.7" y="52.02" text-anchor="end" textLength="12.19" lengthAdjust="spacingAndGlyphs">0.18</text>
<text class="yl" x="30.7" y="42.25" text-anchor="end" textLength="8.71" lengthAdjust="spacingAndGlyphs">0.2</text>
<text class="xl" text-anchor="end" transform="translate(43.50,148.30) rotate(-45)">0</text>
<text class="xl" text-anchor="end" transform="translate(59.22,148.30) rotate(-45)">5,000</text>
<text class="xl" text-anchor="end" transform="translate(74.95,148.30) rotate(-45)">10,000</text>
<text class="xl" text-anchor="end" transform="translate(90.67,148.30) rotate(-45)">15,000</text>
<text class="xl" text-anchor="end" transform="translate(106.39,148.30) rotate(-45)">20,000</text>
<text class="xl" text-anchor="end" transform="translate(122.11,148.30) rotate(-45)">25,000</text>
<text class="xl" text-anchor="end" transform="translate(137.84,148.30) rotate(-45)">30,000</text>
<text class="xl" text-anchor="end" transform="translate(153.56,148.30) rotate(-45)">35,000</text>
<text class="xl" text-anchor="end" transform="translate(169.28,148.30) rotate(-45)">40,000</text>
<text class="xl" text-anchor="end" transform="translate(185.01,148.30) rotate(-45)">45,000</text>
<text class="xl" text-anchor="end" transform="translate(200.73,148.30) rotate(-45)">50,000</text>
<text class="xl" text-anchor="end" transform="translate(216.45,148.30) rotate(-45)">55,000</text>
<text class="xl" text-anchor="end" transform="translate(232.18,148.30) rotate(-45)">60,000</text>
<text class="xl" text-anchor="end" transform="translate(247.90,148.30) rotate(-45)">65,000</text>
<text class="pr" text-anchor="middle" transform="translate(13.8,87.7) rotate(-90)" textLength="26.2" lengthAdjust="spacingAndGlyphs">Probability</text>
<text class="at" x="143" y="173.2" text-anchor="middle" textLength="93.8" lengthAdjust="spacingAndGlyphs">Incremental net monetary benefit ($)</text>
</g>
<g transform="translate(256.60,522.30)">
<text class="lt" x="6.8" y="16.4">H</text>
<text class="t" x="142.1" y="22.3" text-anchor="middle">Incremental net monetary benefit of rapid versus in-house</text>
<text class="t" x="142.1" y="32.4" text-anchor="middle" textLength="230.2" lengthAdjust="spacingAndGlyphs">ADAMTS13 testing (PLASMIC = 6-7, TPE without caplacizumab)</text>
<line x1="43.70" y1="40.2" x2="43.70" y2="137.90" stroke="#dcdcdc" stroke-width="1.4"/>
<rect x="40.50" y="116.41" width="0.99" height="21.49" fill="#6690bf"/>
<rect x="41.49" y="81.72" width="0.99" height="56.18" fill="#6690bf"/>
<rect x="42.48" y="59.25" width="0.99" height="78.65" fill="#6690bf"/>
<rect x="43.47" y="53.39" width="0.99" height="84.51" fill="#6690bf"/>
<rect x="44.46" y="59.25" width="0.99" height="78.65" fill="#6690bf"/>
<rect x="45.45" y="75.37" width="0.99" height="62.53" fill="#6690bf"/>
<rect x="46.44" y="92.96" width="0.99" height="44.94" fill="#6690bf"/>
<rect x="47.43" y="109.81" width="0.99" height="28.09" fill="#6690bf"/>
<rect x="48.42" y="122.27" width="0.99" height="15.63" fill="#6690bf"/>
<rect x="49.41" y="131.21" width="0.99" height="6.69" fill="#6690bf"/>
<path d="M36.80 37V137.90M34 137.90H247.8" stroke="#1e1e1e" stroke-width="1.2" fill="none"/>
<path d="M33.6 137.90H36.80M33.6 128.13H36.80M33.6 118.36H36.80M33.6 108.59H36.80M33.6 98.82H36.80M33.6 89.05H36.80M33.6 79.28H36.80M33.6 69.51H36.80M33.6 59.74H36.80M33.6 49.97H36.80M33.6 40.20H36.80M40.40 137.90V140.80M56.12 137.90V140.80M71.85 137.90V140.80M87.57 137.90V140.80M103.29 137.90V140.80M119.01 137.90V140.80M134.74 137.90V140.80M150.46 137.90V140.80M166.18 137.90V140.80M181.91 137.90V140.80M197.63 137.90V140.80M213.35 137.90V140.80M229.08 137.90V140.80M244.80 137.90V140.80" stroke="#1e1e1e" stroke-width="1.05" fill="none"/>
<text class="yl" x="30.7" y="139.95" text-anchor="end" textLength="3.48" lengthAdjust="spacingAndGlyphs">0</text>
<text class="yl" x="30.7" y="130.18" text-anchor="end" textLength="12.19" lengthAdjust="spacingAndGlyphs">0.02</text>
<text class="yl" x="30.7" y="120.41" text-anchor="end" textLength="12.19" lengthAdjust="spacingAndGlyphs">0.04</text>
<text class="yl" x="30.7" y="110.64" text-anchor="end" textLength="12.19" lengthAdjust="spacingAndGlyphs">0.06</text>
<text class="yl" x="30.7" y="100.87" text-anchor="end" textLength="12.19" lengthAdjust="spacingAndGlyphs">0.08</text>
<text class="yl" x="30.7" y="91.10" text-anchor="end" textLength="8.71" lengthAdjust="spacingAndGlyphs">0.1</text>
<text class="yl" x="30.7" y="81.33" text-anchor="end" textLength="12.19" lengthAdjust="spacingAndGlyphs">0.12</text>
<text class="yl" x="30.7" y="71.56" text-anchor="end" textLength="12.19" lengthAdjust="spacingAndGlyphs">0.14</text>
<text class="yl" x="30.7" y="61.79" text-anchor="end" textLength="12.19" lengthAdjust="spacingAndGlyphs">0.16</text>
<text class="yl" x="30.7" y="52.02" text-anchor="end" textLength="12.19" lengthAdjust="spacingAndGlyphs">0.18</text>
<text class="yl" x="30.7" y="42.25" text-anchor="end" textLength="8.71" lengthAdjust="spacingAndGlyphs">0.2</text>
<text class="xl" text-anchor="end" transform="translate(43.50,148.30) rotate(-45)">0</text>
<text class="xl" text-anchor="end" transform="translate(59.22,148.30) rotate(-45)">5,000</text>
<text class="xl" text-anchor="end" transform="translate(74.95,148.30) rotate(-45)">10,000</text>
<text class="xl" text-anchor="end" transform="translate(90.67,148.30) rotate(-45)">15,000</text>
<text class="xl" text-anchor="end" transform="translate(106.39,148.30) rotate(-45)">20,000</text>
<text class="xl" text-anchor="end" transform="translate(122.11,148.30) rotate(-45)">25,000</text>
<text class="xl" text-anchor="end" transform="translate(137.84,148.30) rotate(-45)">30,000</text>
<text class="xl" text-anchor="end" transform="translate(153.56,148.30) rotate(-45)">35,000</text>
<text class="xl" text-anchor="end" transform="translate(169.28,148.30) rotate(-45)">40,000</text>
<text class="xl" text-anchor="end" transform="translate(185.01,148.30) rotate(-45)">45,000</text>
<text class="xl" text-anchor="end" transform="translate(200.73,148.30) rotate(-45)">50,000</text>
<text class="xl" text-anchor="end" transform="translate(216.45,148.30) rotate(-45)">55,000</text>
<text class="xl" text-anchor="end" transform="translate(232.18,148.30) rotate(-45)">60,000</text>
<text class="xl" text-anchor="end" transform="translate(247.90,148.30) rotate(-45)">65,000</text>
<text class="pr" text-anchor="middle" transform="translate(13.8,87.7) rotate(-90)" textLength="26.2" lengthAdjust="spacingAndGlyphs">Probability</text>
<text class="at" x="143" y="173.2" text-anchor="middle" textLength="93.8" lengthAdjust="spacingAndGlyphs">Incremental net monetary benefit ($)</text>
</g>
<path d="M0 0H520V1.15H0ZM0 702.85H520V704H0ZM0 0H1.1V704H0ZM518.85 0H520V704H518.85Z" fill="#5e5e5e"/>
</svg>
</body></html>
